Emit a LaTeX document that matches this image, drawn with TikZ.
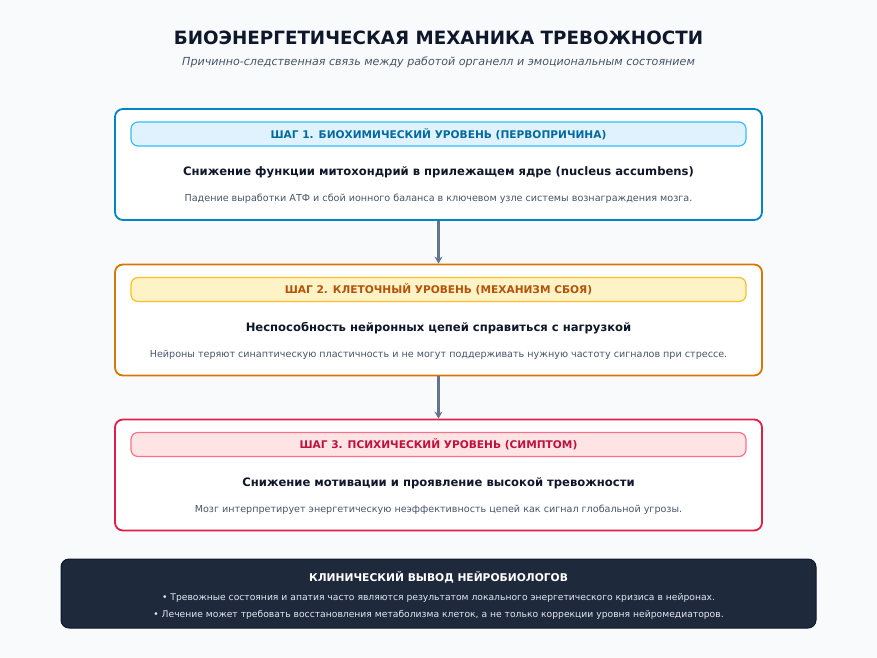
\documentclass[tikz,border=0pt]{standalone}
\usepackage{fontspec}
\setmainfont{DejaVu Sans}
\usetikzlibrary{positioning,arrows.meta}
\definecolor{pagebg}{HTML}{F8FAFC}
\definecolor{ink}{HTML}{0F172A}
\definecolor{muted}{HTML}{475569}
\definecolor{arrowgray}{HTML}{64748B}
\definecolor{blueline}{HTML}{0284C7}
\definecolor{bluefill}{HTML}{E0F2FE}
\definecolor{bluepill}{HTML}{38BDF8}
\definecolor{bluetext}{HTML}{0369A1}
\definecolor{orangeline}{HTML}{D97706}
\definecolor{orangefill}{HTML}{FEF3C7}
\definecolor{orangepill}{HTML}{FBBF24}
\definecolor{orangetext}{HTML}{B45309}
\definecolor{redline}{HTML}{E11D48}
\definecolor{redfill}{HTML}{FFE4E6}
\definecolor{redpill}{HTML}{FB7185}
\definecolor{redtext}{HTML}{BE123C}
\definecolor{darkbox}{HTML}{1E293B}
\definecolor{darkline}{HTML}{0F172A}
\definecolor{lighttext}{HTML}{E2E8F0}
\tikzset{
  stepbox/.style={draw=#1, line width=1.8pt, fill=white, rounded corners=8pt,
    minimum width=647pt, minimum height=111pt, inner sep=0pt},
  pill/.style 2 args={draw=#1, fill=#2, line width=1.2pt, rounded corners=7pt,
    minimum width=615pt, minimum height=24pt, inner sep=0pt},
  pilltext/.style={font=\fontsize{10.6}{13}\selectfont\bfseries, text=#1},
  maintext/.style={font=\fontsize{11.6}{14}\selectfont\bfseries, text=ink},
  desctext/.style={font=\fontsize{9.6}{12}\selectfont, text=muted},
  bullettext/.style={font=\fontsize{9.2}{11}\selectfont, text=lighttext},
  flow/.style={draw=arrowgray, line width=2.2pt, -{Stealth[length=7pt,width=8pt]}}
}
\begin{document}
\begin{tikzpicture}[x=1pt,y=-1pt]
\fill [pagebg] (0,0) rectangle (877,657);
\useasboundingbox (0,0) rectangle (877,657);
% title
\node (title) [font=\fontsize{18.3}{22}\selectfont\bfseries, text=ink] at (438.5,38) {БИОЭНЕРГЕТИЧЕСКАЯ МЕХАНИКА ТРЕВОЖНОСТИ};
\node (subtitle) [font=\fontsize{11.1}{13}\selectfont\itshape, text=muted] at (438.5,62) {Причинно-следственная связь между работой органелл и эмоциональным состоянием};
% step 1
\node (box1) [stepbox=blueline] at (438.5,164.5) {};
\node (pill1) [pill={bluepill}{bluefill}] at (438.5,134) {};
\node [pilltext=bluetext] at (pill1) {ШАГ 1. БИОХИМИЧЕСКИЙ УРОВЕНЬ (ПЕРВОПРИЧИНА)};
\node (main1) [maintext] at (438.5,172) {Снижение функции митохондрий в прилежащем ядре (nucleus accumbens)};
\node (desc1) [desctext] at (438.5,199) {Падение выработки АТФ и сбой ионного баланса в ключевом узле системы вознаграждения мозга.};
% step 2
\node (box2) [stepbox=orangeline] at (438.5,320) {};
\node (pill2) [pill={orangepill}{orangefill}] at (438.5,289.5) {};
\node [pilltext=orangetext] at (pill2) {ШАГ 2. КЛЕТОЧНЫЙ УРОВЕНЬ (МЕХАНИЗМ СБОЯ)};
\node (main2) [maintext] at (438.5,328) {Неспособность нейронных цепей справиться с нагрузкой};
\node (desc2) [desctext] at (438.5,355) {Нейроны теряют синаптическую пластичность и не могут поддерживать нужную частоту сигналов при стрессе.};
% step 3
\node (box3) [stepbox=redline] at (438.5,475) {};
\node (pill3) [pill={redpill}{redfill}] at (438.5,444.5) {};
\node [pilltext=redtext] at (pill3) {ШАГ 3. ПСИХИЧЕСКИЙ УРОВЕНЬ (СИМПТОМ)};
\node (main3) [maintext] at (438.5,483) {Снижение мотивации и проявление высокой тревожности};
\node (desc3) [desctext] at (438.5,510) {Мозг интерпретирует энергетическую неэффективность цепей как сигнал глобальной угрозы.};
% arrows
\draw [flow] (box1.south) -- (box2.north);
\draw [flow] (box2.south) -- (box3.north);
% conclusion
\node (outcome) [draw=darkline, line width=1pt, fill=darkbox, rounded corners=8pt,
  minimum width=755pt, minimum height=69pt] at (438.5,593.5) {};
\node (outtitle) [font=\fontsize{10.7}{13}\selectfont\bfseries, text=white] at (438.5,577) {КЛИНИЧЕСКИЙ ВЫВОД НЕЙРОБИОЛОГОВ};
\node (bullet1) [bullettext] at (438.5,598) {• Тревожные состояния и апатия часто являются результатом локального энергетического кризиса в нейронах.};
\node (bullet2) [bullettext] at (438.5,615) {• Лечение может требовать восстановления метаболизма клеток, а не только коррекции уровня нейромедиаторов.};
\end{tikzpicture}
\end{document}
